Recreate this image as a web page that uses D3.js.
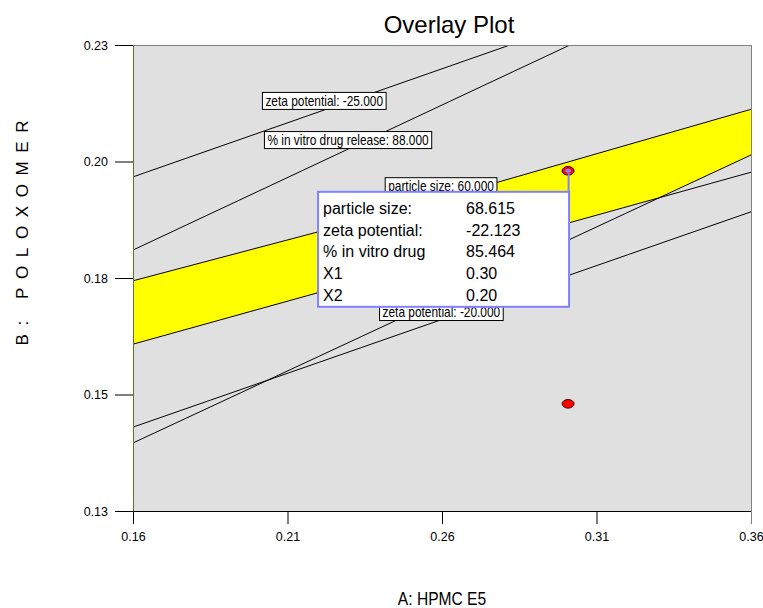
<!DOCTYPE html>
<html><head><meta charset="utf-8">
<script src="https://cdn.jsdelivr.net/npm/d3@7"></script>
<style>body{margin:0;background:#fff}svg{display:block}text{font-family:"Liberation Sans",Arial,Helvetica,sans-serif}</style>
</head><body><svg id="c" width="763" height="608"></svg>
<script>
// ---- data ----
const xTicks = [0.16, 0.21, 0.26, 0.31, 0.36];
const xTickLabels = ["0.16", "0.21", "0.26", "0.31", "0.36"];
const yTicks = [0.13, 0.155, 0.18, 0.205, 0.23];
const yTickLabels = ["0.13", "0.15", "0.18", "0.20", "0.23"];

// contour lines, [A, B] points
const zeta25 = [[0.16, 0.2017], [0.2820, 0.23]];
const release88 = [[0.16, 0.1860], [0.3014, 0.23]];
const size60 = [[0.16, 0.1794], [0.2199, 0.1899], [0.2788, 0.2007], [0.36, 0.2162]];
const contourA = [[0.16, 0.1658], [0.36, 0.2027]];
const contourB = [[0.16, 0.1446], [0.36, 0.2064]];
const contourC = [[0.16, 0.1480], [0.36, 0.1942]];

const designX = [0.3008, 0.3008];
const designY = [0.2030, 0.1530];

const labelTexts = ["zeta potential: -25.000", "% in vitro drug release: 88.000", "particle size: 60.000", "zeta potential: -20.000"];
const labelX = [0.2219, 0.2296, 0.2597, 0.2598];
const labelY = [0.2180, 0.2096, 0.1997, 0.1727];

const flagNames = ["particle size:", "zeta potential:", "% in vitro drug", "X1", "X2"];
const flagValues = ["68.615", "-22.123", "85.464", "0.30", "0.20"];

// ---- drawing ----
const svg = d3.select("#c");
const L = 133, R = 751, T = 45, B = 511;
const x = d3.scaleLinear().domain([0.16, 0.36]).range([L, R]);
const y = d3.scaleLinear().domain([0.13, 0.23]).range([B, T]);

svg.append("defs").append("clipPath").attr("id", "pc")
  .append("rect").attr("x", L).attr("y", T).attr("width", R - L).attr("height", B - T);

svg.append("rect").attr("x", L).attr("y", T).attr("width", R - L).attr("height", B - T).attr("fill", "#e0e0e0");

const plot = svg.append("g").attr("clip-path", "url(#pc)");
const line = d3.line().x(d => x(d[0])).y(d => y(d[1]));

// intersection of contour A and B
function lineAt(seg, xv) { const [[x0, y0], [x1, y1]] = seg; return y0 + (xv - x0) * (y1 - y0) / (x1 - x0); }
const sA = (contourA[1][1] - contourA[0][1]) / (contourA[1][0] - contourA[0][0]);
const sB = (contourB[1][1] - contourB[0][1]) / (contourB[1][0] - contourB[0][0]);
const xi = contourA[0][0] + (contourA[0][1] - contourB[0][1]) / (sB - sA);
const yi = lineAt(contourA, xi);

const poly = size60.concat([contourB[1], [xi, yi], contourA[0]]);
plot.append("path").attr("d", line(poly) + "Z").attr("fill", "#ffff00");

[zeta25, release88, size60, contourA, contourB, contourC].forEach(c => {
  plot.append("path").attr("d", line(c)).attr("fill", "none").attr("stroke", "#000").attr("stroke-width", 1);
});

// contour labels
labelTexts.forEach((t, i) => {
  const g = plot.append("g");
  const cx = x(labelX[i]), cy = y(labelY[i]);
  const r = g.append("rect").attr("y", cy - 8.5).attr("height", 17).attr("fill", "#fff").attr("stroke", "#000").attr("stroke-width", 1);
  const tx = g.append("text").attr("x", cx).attr("y", cy + 5).attr("text-anchor", "middle")
    .attr("font-size", 14.5).attr("fill", "#000").text(t);
  const w = tx.node().getComputedTextLength() * 0.82;
  tx.attr("textLength", w).attr("lengthAdjust", "spacingAndGlyphs");
  r.attr("x", cx - w / 2 - 3).attr("width", w + 6);
});

// design points
designX.forEach((dx, i) => {
  plot.append("ellipse").attr("cx", x(dx)).attr("cy", y(designY[i])).attr("rx", 6).attr("ry", 4.3)
    .attr("fill", "#ff0000").attr("stroke", "#300").attr("stroke-width", 1);
});
const px = x(designX[0]), py = y(designY[0]);
plot.append("ellipse").attr("cx", px).attr("cy", py).attr("rx", 3).attr("ry", 2).attr("fill", "#8080ff");

// flag tooltip
plot.append("line").attr("x1", px + 0.5).attr("x2", px + 0.5).attr("y1", py + 2).attr("y2", py + 21)
  .attr("stroke", "#8080ff").attr("stroke-width", 2);
plot.append("rect").attr("x", px - 250).attr("y", py + 21).attr("width", 251).attr("height", 115)
  .attr("fill", "#fff").attr("stroke", "#8080ff").attr("stroke-width", 2);
flagNames.forEach((n, i) => {
  const by = py + 43 + i * 21.75;
  plot.append("text").attr("x", px - 245).attr("y", by).attr("font-size", 16).attr("fill", "#000").text(n);
  plot.append("text").attr("x", px - 102).attr("y", by).attr("font-size", 16).attr("fill", "#000").text(flagValues[i]);
});

// borders
svg.append("line").attr("x1", L).attr("x2", R).attr("y1", T + 0.5).attr("y2", T + 0.5).attr("stroke", "#808080");
svg.append("line").attr("x1", R + 0.5).attr("x2", R + 0.5).attr("y1", T).attr("y2", B + 13).attr("stroke", "#808080");
svg.append("line").attr("x1", L + 0.5).attr("x2", L + 0.5).attr("y1", T).attr("y2", B).attr("stroke", "#6b6b2e");

// axes
const yAxis = d3.axisLeft(y).tickValues(yTicks).tickFormat((d, i) => yTickLabels[i]).tickSize(18).tickPadding(7);
const gy = svg.append("g").attr("transform", `translate(${L},0)`).call(yAxis);
gy.select(".domain").remove();
gy.selectAll("text").attr("font-size", 12.5).attr("font-family", null).attr("fill", "#000");
gy.selectAll("line").attr("stroke", "#000");

const xAxis = d3.axisBottom(x).tickValues(xTicks).tickFormat((d, i) => xTickLabels[i]).tickSize(13).tickPadding(8);
const gx = svg.append("g").attr("transform", `translate(0,${B})`).call(xAxis);
gx.select(".domain").remove();
gx.selectAll("text").attr("font-size", 12.5).attr("font-family", null).attr("fill", "#000");
gx.selectAll("line").attr("stroke", "#000");
gx.selectAll(".tick").filter((d, i) => i === xTicks.length - 1).select("line").attr("stroke", "#808080");

svg.append("line").attr("x1", L).attr("x2", R).attr("y1", B + 0.5).attr("y2", B + 0.5).attr("stroke", "#000");

// titles
svg.append("text").attr("x", 449).attr("y", 33).attr("text-anchor", "middle").attr("font-size", 24).attr("fill", "#000").text("Overlay Plot");

const xt = svg.append("text").attr("x", 442).attr("y", 605).attr("text-anchor", "middle").attr("font-size", 19).attr("fill", "#000").text("A: HPMC E5");
xt.attr("textLength", xt.node().getComputedTextLength() * 0.82).attr("lengthAdjust", "spacingAndGlyphs");

svg.append("text").attr("transform", "translate(28,233) rotate(-90)").attr("text-anchor", "middle")
  .attr("font-size", 17).attr("fill", "#000").attr("textLength", 225).attr("lengthAdjust", "spacing").text("B: POLOXOMER");
</script></body></html>
